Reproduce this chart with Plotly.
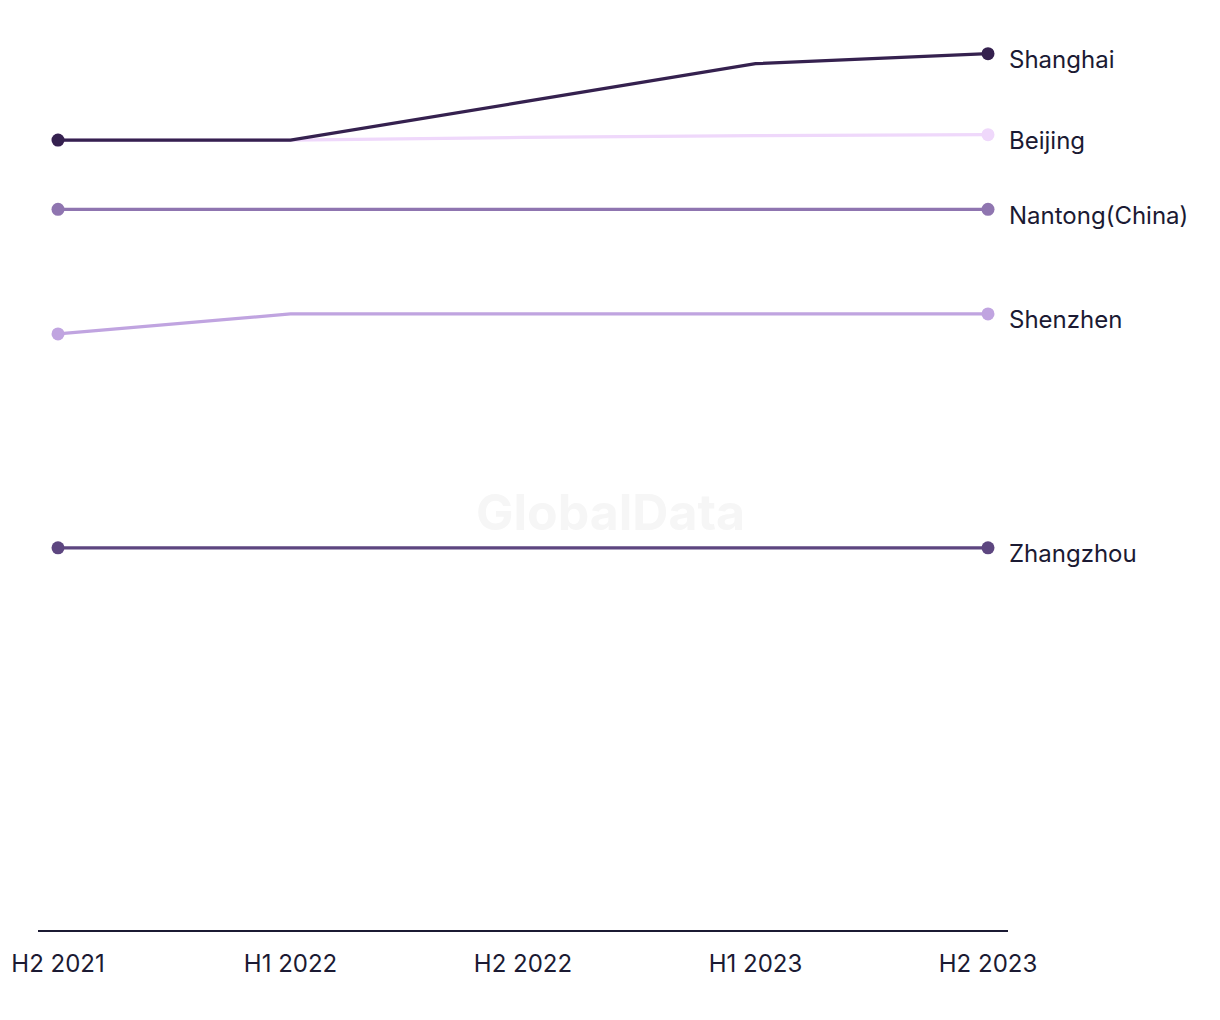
import plotly.graph_objects as go

periods = ["H2 2021", "H1 2022", "H2 2022", "H1 2023", "H2 2023"]

# series values (arbitrary index units)
beijing = [86.8, 86.8, 87.1, 87.3, 87.4]
shanghai = [86.8, 86.8, 91.0, 95.2, 96.3]
nantong = [79.2, 79.2, 79.2, 79.2, 79.2]
shenzhen = [65.5, 67.7, 67.7, 67.7, 67.7]
zhangzhou = [42.0, 42.0, 42.0, 42.0, 42.0]

series = [
    ("Beijing", beijing, "#efd8fb"),
    ("Shanghai", shanghai, "#35214f"),
    ("Nantong(China)", nantong, "#8f75b0"),
    ("Shenzhen", shenzhen, "#c0a4e0"),
    ("Zhangzhou", zhangzhou, "#5d4680"),
]

FONT = "Inter, Liberation Sans, sans-serif"
TEXT = "#1b1a33"

fig = go.Figure()
xs = list(range(len(periods)))
for name, vals, color in series:
    fig.add_trace(go.Scatter(
        x=xs, y=vals, name=name, mode="lines",
        line=dict(color=color, width=3.2),
        showlegend=False, hoverinfo="skip",
    ))
    fig.add_trace(go.Scatter(
        x=[xs[0], xs[-1]], y=[vals[0], vals[-1]], mode="markers",
        marker=dict(color=color, size=13, opacity=1, line=dict(width=0)),
        showlegend=False, hoverinfo="skip",
    ))
    fig.add_annotation(
        x=xs[-1], y=vals[-1], xref="x", yref="y",
        text=name, showarrow=False, xanchor="left", yanchor="middle",
        xshift=19, yshift=-6,
        font=dict(family=FONT, size=24, color=TEXT),
    )

fig.add_annotation(
    x=0.5897, y=0.459, xref="paper", yref="paper", text="<b>GlobalData</b>",
    showarrow=False, font=dict(family=FONT, size=50, color="#f6f6f6"),
    xanchor="center", yanchor="middle",
)

fig.update_xaxes(
    tickmode="array", tickvals=xs, ticktext=periods,
    range=[-0.086, 4.086], showgrid=False, zeroline=False,
    showline=True, linecolor="#1b1a33", linewidth=2,
    ticks="", ticklabelstandoff=11, automargin=False,
    tickfont=dict(family=FONT, size=24, color=TEXT),
)
fig.update_yaxes(range=[0, 100], visible=False, showgrid=False, zeroline=False,
                 automargin=False)

fig.update_layout(
    width=1220, height=1020,
    margin=dict(l=30, r=220, t=12, b=98, autoexpand=False),
    plot_bgcolor="white", paper_bgcolor="white",
)

fig.write_html("out.html")
